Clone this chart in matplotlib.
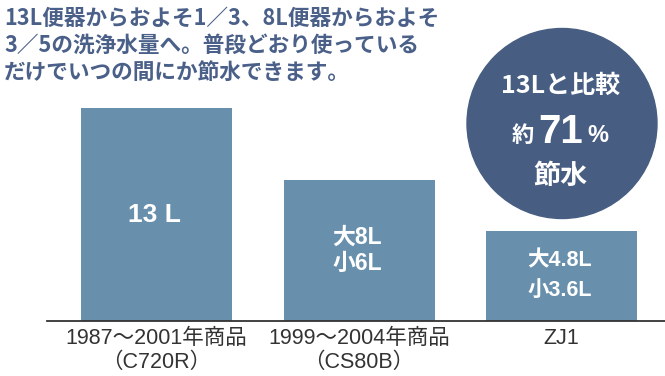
import matplotlib
matplotlib.use("Agg")
import matplotlib.pyplot as plt
from matplotlib.patches import Circle

plt.rcParams['font.family'] = ['Noto Sans CJK JP', 'DejaVu Sans']
LAT = ['Liberation Sans', 'Noto Sans CJK JP', 'DejaVu Sans']

# ---- data ----
categories = ["1987～2001年商品\n（C720R）", "1999～2004年商品\n（CS80B）", "ZJ1"]
bar_heights = [13, 8.6, 5.5]          # drawn heights (liters scale)
bar_labels = ["13 L", "大8L\n小6L", "大4.8L\n小3.6L"]
title_lines = ["13L便器からおよそ1／3、8L便器からおよそ",
               "3／5の洗浄水量へ。普段どおり使っている",
               "だけでいつの間にか節水できます。"]
badge_top = "13Lと比較"
badge_pre = "約"
badge_num = "71"
badge_unit = "%"
badge_bottom = "節水"

BAR = "#6890ad"
NAVY = "#475e82"
TITLE = "#4a6089"
W, H = 665, 376

fig = plt.figure(figsize=(W / 100, H / 100), dpi=100)

# main axes: x from px 47 to 665, baseline at px 321, top at px 0
ax = fig.add_axes([47 / W, (H - 321) / H, (W - 47) / W, 321 / H])
xs = list(range(len(categories)))
ax.bar(xs, bar_heights, width=0.746, color=BAR, zorder=2)
ax.set_xlim(-0.541, 2.511)
ax.set_ylim(0, 321 / (213 / 13))
for s in ["top", "right", "left"]:
    ax.spines[s].set_visible(False)
ax.spines["bottom"].set_color("#333333")
ax.spines["bottom"].set_linewidth(1.3)
ax.set_yticks([])
ax.set_xticks(xs)
ax.set_xticklabels(categories, fontsize=15.5, color="#333333", linespacing=1.2,
                   family=LAT)
ax.tick_params(axis="x", length=0, pad=5)

sizes = [19, 16.5, 15.5]
spacings = [1.2, 1.2, 1.55]
for x, h, lab, fs, ls in zip(xs, bar_heights, bar_labels, sizes, spacings):
    ax.text(x - 0.01, h / 2, lab, ha="center", va="center", color="white",
            fontsize=fs, fontweight="bold", linespacing=ls, zorder=3, family=LAT)

# overlay in pixel coordinates for title and badge
ov = fig.add_axes([0, 0, 1, 1])
ov.set_xlim(0, W)
ov.set_ylim(H, 0)
ov.axis("off")
ov.patch.set_alpha(0)

for i, line in enumerate(title_lines):
    ov.text(4, 18 + i * 27, line, ha="left", va="center", color=TITLE,
            fontsize=15.6, fontweight="bold")

ov.add_patch(Circle((562, 123.5), 95, color=NAVY, zorder=1))
ov.text(561, 86, badge_top, ha="center", va="center", color="white",
        fontsize=18, fontweight="bold")
ov.text(523, 136, badge_pre, ha="center", va="center", color="white",
        fontsize=16, fontweight="bold")
ov.text(561, 132, badge_num, ha="center", va="center", color="white",
        fontsize=29, fontweight="bold", family=LAT)
ov.text(598, 135, badge_unit, ha="center", va="center", color="white",
        fontsize=17, fontweight="bold", family=LAT)
ov.text(560, 176, badge_bottom, ha="center", va="center", color="white",
        fontsize=19.5, fontweight="bold")

fig.savefig("out.png", dpi=100, facecolor="white")
